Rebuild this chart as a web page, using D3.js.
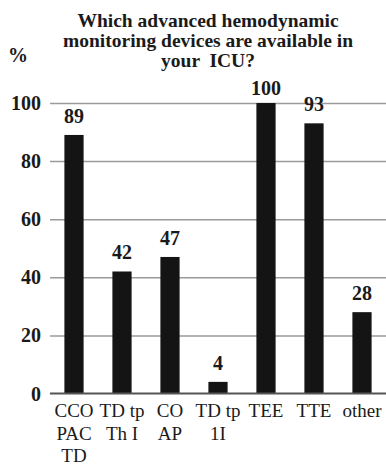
<!DOCTYPE html>
<html><head><meta charset="utf-8">
<script src="https://cdn.jsdelivr.net/npm/d3@7"></script>
<style>
html,body{margin:0;padding:0;background:#fff;}
text{font-family:"Liberation Serif","Times New Roman",Times,serif;fill:#1a1a1a;}
</style></head>
<body><svg id="c" width="386" height="467"></svg>
<script>
const categories = ["CCO\nPAC\nTD", "TD tp\nTh I", "CO\nAP", "TD tp\n1I", "TEE", "TTE", "other"];
const values = [89, 42, 47, 4, 100, 93, 28];
const yTicks = [0, 20, 40, 60, 80, 100];
const titleLines = ["Which advanced hemodynamic", "monitoring devices are available in", "your  ICU?"];
const yLabel = "%";

const svg = d3.select("#c");
const x = d3.scaleBand().domain(categories).range([50, 386]).paddingInner(0.6).paddingOuter(0.3);
const y = d3.scaleLinear().domain([0, 100]).range([393.5, 103]);

// gridlines
const grid = d3.axisLeft(y).tickValues(yTicks.filter(d => d > 0)).tickSize(-336).tickFormat("");
svg.append("g").attr("transform", "translate(50,0)").call(grid)
  .call(g => g.select(".domain").remove())
  .call(g => g.selectAll("line").attr("stroke", "#9a9a9a").attr("stroke-width", 1.5));

// y tick labels
svg.append("g").selectAll("text").data(yTicks).join("text")
  .attr("x", 41).attr("y", d => y(d)).attr("dy", "0.35em")
  .attr("text-anchor", "end").attr("font-weight", "bold").attr("font-size", 20)
  .text(d => d);

// bars
svg.append("g").selectAll("rect").data(values).join("rect")
  .attr("x", (d, i) => x(categories[i]))
  .attr("width", x.bandwidth())
  .attr("y", d => y(d))
  .attr("height", d => y(0) - y(d))
  .attr("fill", "#141414");

// baseline axis
const xAxis = d3.axisBottom(x).tickSize(0).tickFormat("");
svg.append("g").attr("transform", `translate(0,${y(0)})`).call(xAxis)
  .call(g => g.select(".domain").attr("stroke", "#555").attr("stroke-width", 2).attr("d", "M50,0H386"));

// value labels
svg.append("g").selectAll("text").data(values).join("text")
  .attr("x", (d, i) => x(categories[i]) + x.bandwidth() / 2)
  .attr("y", d => Math.max(y(d) - 12, 95))
  .attr("text-anchor", "middle").attr("font-weight", "bold").attr("font-size", 20)
  .text(d => d);

// category labels
const cl = svg.append("g").selectAll("text").data(categories).join("text")
  .attr("text-anchor", "middle").attr("font-size", 19)
  .attr("x", d => x(d) + x.bandwidth() / 2).attr("y", 417);
cl.selectAll("tspan").data(d => d.split("\n")).join("tspan")
  .attr("x", function () { return d3.select(this.parentNode).attr("x"); })
  .attr("dy", (d, i) => i === 0 ? 0 : 22.5)
  .text(d => d);

// title
svg.append("g").selectAll("text").data(titleLines).join("text")
  .attr("x", 208).attr("y", (d, i) => 27 + i * 20)
  .attr("text-anchor", "middle").attr("font-weight", "bold").attr("font-size", 19.5)
  .style("white-space", "pre")
  .text(d => d);

// y label
svg.append("text").attr("x", 8).attr("y", 62).attr("font-weight", "bold").attr("font-size", 20).text(yLabel);
</script></body></html>
